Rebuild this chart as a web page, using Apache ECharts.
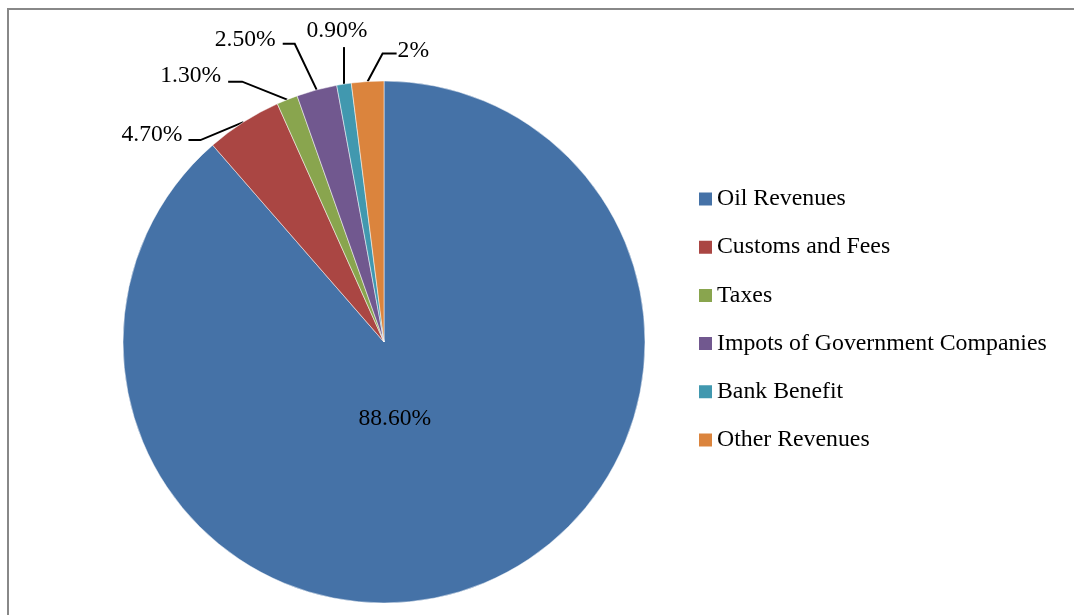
<!DOCTYPE html>
<html>
<head>
<meta charset="utf-8">
<title>Revenue Structure</title>
<script src="https://cdn.jsdelivr.net/npm/echarts@6/dist/echarts.min.js"></script>
<style>
  html, body { margin: 0; padding: 0; background: #fff; }
  #chart { width: 1074px; height: 615px; }
</style>
</head>
<body>
<div id="chart"></div>
<script>
// Revenue categories and their shares (%)
var categories = ['Oil Revenues', 'Customs and Fees', 'Taxes', 'Impots of Government Companies', 'Bank Benefit', 'Other Revenues'];
var shares = [88.6, 4.7, 1.3, 2.5, 0.9, 2];
var shareLabels = ['88.60%', '4.70%', '1.30%', '2.50%', '0.90%', '2%'];
var colors = ['#4572A7', '#AA4643', '#89A54E', '#71588F', '#4198AF', '#DB843D'];

// Leader-line geometry for the outside labels, relative to the slice's anchor point:
// elbow, line end, label anchor and text alignment.
var leaderGeom = {
  1: { elbow: [-43, 18],  end: [-55, 18],  text: [-61, 13],  align: 'right' },
  2: { elbow: [-45, -18], end: [-59, -18], text: [-66, -24], align: 'right' },
  3: { elbow: [-22, -46], end: [-34, -46], text: [-41, -50], align: 'right' },
  4: { elbow: [0, -37],   end: [0, -37],   text: [-7, -53],  align: 'center' },
  5: { elbow: [15, -28],  end: [29, -28],  text: [30, -31],  align: 'left' }
};

var FONT = '"Liberation Serif", "Times New Roman", serif';

var pieData = categories.map(function (name, i) {
  var item = { name: name, value: shares[i], itemStyle: { color: colors[i] } };
  if (i === 0) {
    item.label = { position: 'inside' };
  }
  return item;
});

var chart = echarts.init(document.getElementById('chart'), null, { renderer: 'canvas' });

chart.setOption({
  animation: false,
  backgroundColor: '#ffffff',
  graphic: [{
    type: 'rect',
    shape: { x: 8, y: 9, width: 1200, height: 800 },
    style: { fill: 'none', stroke: '#888888', lineWidth: 2 },
    silent: true
  }],
  legend: {
    orient: 'vertical',
    left: 697,
    top: 187,
    padding: 0,
    icon: 'rect',
    itemWidth: 15,
    itemHeight: 15,
    itemGap: 24.2,
    textStyle: { fontFamily: FONT, fontSize: 23.8, color: '#000', lineHeight: 24, padding: [0, 0, 0, -1] },
    data: categories
  },
  series: [{
    type: 'pie',
    center: [384, 342],
    radius: 261,
    startAngle: 90,
    clockwise: true,
    avoidLabelOverlap: false,
    itemStyle: { borderColor: '#ffffff', borderWidth: 0.5 },
    label: {
      show: true,
      position: 'outside',
      fontFamily: FONT,
      fontSize: 23.6,
      color: '#000',
      formatter: function (p) { return shareLabels[p.dataIndex]; }
    },
    labelLine: {
      show: true,
      length: 10,
      length2: 10,
      lineStyle: { color: '#000', width: 2 }
    },
    labelLayout: function (p) {
      if (p.dataIndex === 0) {
        return { dx: -36, dy: -48 };
      }
      var g = leaderGeom[p.dataIndex];
      var a = p.labelLinePoints[0];
      return {
        x: a[0] + g.text[0],
        y: a[1] + g.text[1],
        align: g.align,
        verticalAlign: 'middle',
        labelLinePoints: [
          [a[0], a[1]],
          [a[0] + g.elbow[0], a[1] + g.elbow[1]],
          [a[0] + g.end[0], a[1] + g.end[1]]
        ]
      };
    },
    emphasis: { disabled: true },
    data: pieData
  }]
});
</script>
</body>
</html>
